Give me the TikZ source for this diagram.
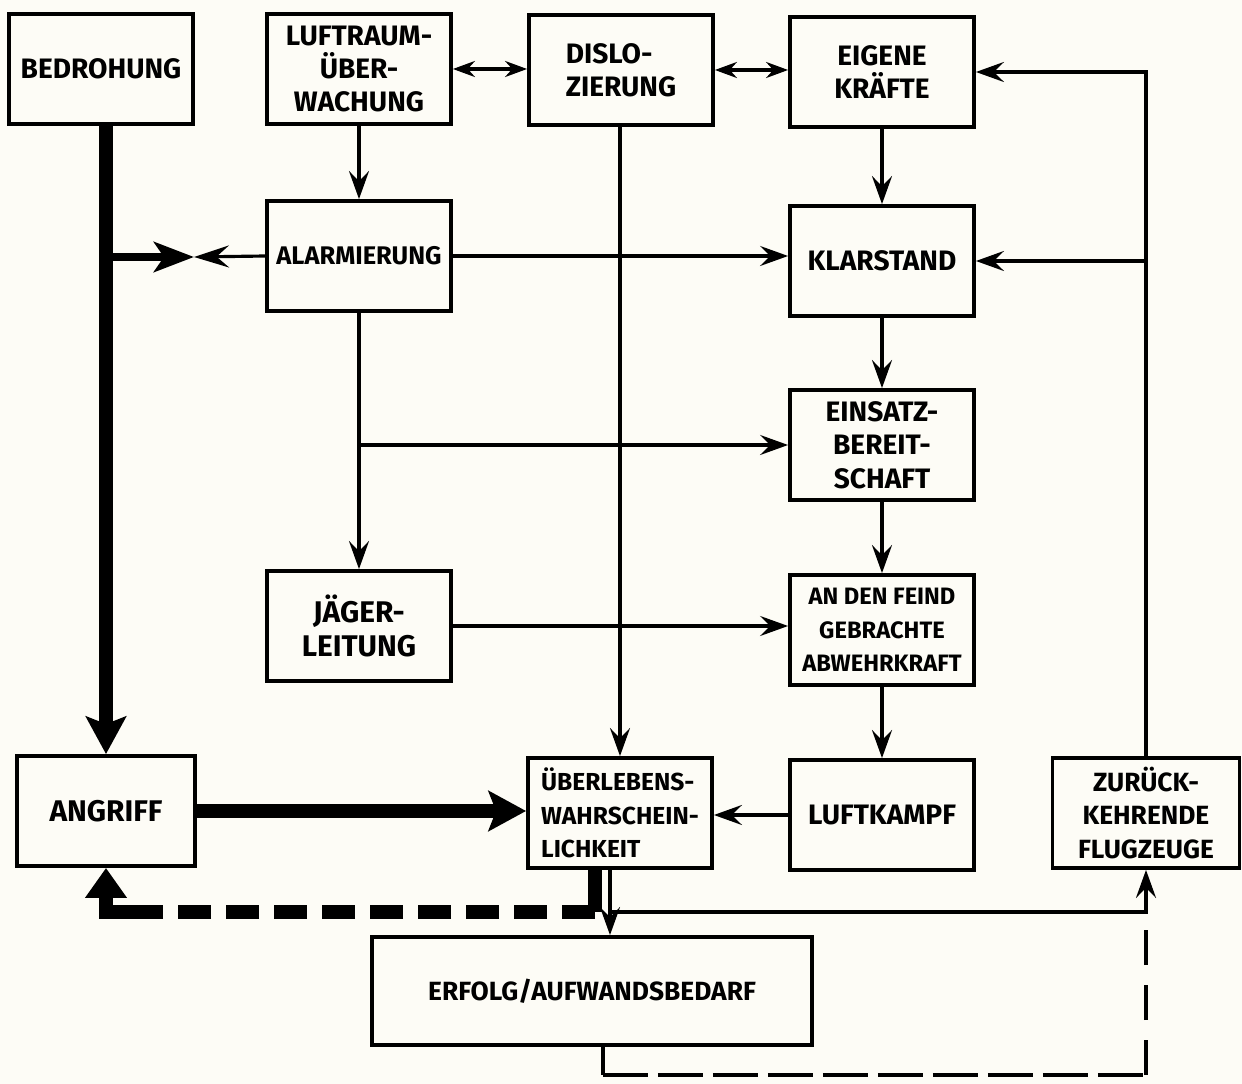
\documentclass[tikz,border=0pt]{standalone}
\usepackage{fontspec}
\setmainfont{Fira Sans}
\usetikzlibrary{arrows.meta,positioning}
\definecolor{papier}{RGB}{253,252,246}
\newcommand\groesse[1]{\fontsize{#1}{19}\selectfont\bfseries}

\tikzset{
  kasten/.style={draw, line width=2.2pt, minimum width=3.68cm, minimum height=2.2cm,
    inner sep=2pt, align=center, font=\groesse{16}},
  klein/.style={font=\groesse{13.5}},
  pfeil/.style={line width=1.8pt, -{Stealth[length=5.6mm,width=4mm,inset=2mm]}},
  doppel/.style={line width=1.8pt, {Stealth[length=4.4mm,width=3.2mm]}-{Stealth[length=4.4mm,width=3.2mm]}},
  dick/.style={line width=8pt, -{Stealth[length=7.5mm,width=8mm,inset=1.5mm]}},
  strich/.style={line width=2pt, dash pattern=on 9mm off 2mm},
}

\begin{document}
\begin{tikzpicture}[x=0.02cm, y=-0.02cm]
    \fill[papier] (0,0) rectangle (1242,1084);
    \useasboundingbox (0,0) rectangle (1242,1084);

    % Kaesten, obere Reihe
    \node[kasten] (bedro) at (101,69) {BEDROHUNG};
    \node[kasten] (luft) at (359,69) {LUFTRAUM-\\ÜBER-\\WACHUNG};
    \node[kasten, align=left] (dislo) at (621,70) {DISLO-\\ZIERUNG};
    \node[kasten] (eigene) at (882,72) {EIGENE\\KRÄFTE};

    % Kaesten, Mitte
    \node[kasten, font=\groesse{14.5}] (alarm) at (359,256) {ALARMIERUNG};
    \node[kasten] (klar) at (882,261) {KLARSTAND};
    \node[kasten] (einsatz) at (882,445) {EINSATZ-\\BEREIT-\\SCHAFT};
    \node[kasten, font=\groesse{17}] (jaeger) at (359,626) {JÄGER-\\LEITUNG};
    \node[kasten, klein] (feind) at (882,630) {AN DEN FEIND\\GEBRACHTE\\ABWEHRKRAFT};

    % Kaesten, untere Reihe
    \node[kasten, minimum width=3.56cm, font=\groesse{17}] (angriff) at (106,811) {ANGRIFF};
    \node[kasten, font=\groesse{14}, align=left] (ueber) at (620,813) {ÜBERLEBENS-\\WAHRSCHEIN-\\LICHKEIT};
    \node[kasten] (luftk) at (882,815) {LUFTKAMPF};
    \node[kasten, font=\groesse{15}, minimum width=3.74cm] (zurueck) at (1146,813) {ZURÜCK-\\KEHRENDE\\FLUGZEUGE};
    \node[kasten, minimum width=8.8cm, minimum height=2.16cm, font=\groesse{15}] (erfolg) at (592,991) {ERFOLG/AUFWANDSBEDARF};

    % Hilfspunkte
    \coordinate (treff) at (194,257);
    \coordinate (ab) at (610,912);
    \coordinate (rueck) at (595,912);
    \coordinate (stummel) at (150,912);
    \coordinate (unten) at (603,1075);

    % Bedrohung -> Angriff
    \draw[dick] (angriff.north |- bedro.south) -- (angriff.north);
    \draw[line width=5pt, -{Stealth[length=8mm,width=6mm,inset=2mm]}] (angriff.north |- treff) -- (treff);
    \draw[line width=1.8pt, -{Stealth[length=7mm,width=4.4mm,inset=2.5mm]}] (alarm.west) -- (treff);

    % obere Verbindungen
    \draw[doppel] (luft.east) -- (luft.east -| dislo.west);
    \draw[doppel] (dislo.east) -- (dislo.east -| eigene.west);
    \draw[pfeil] (luft) -- (alarm);
    \draw[pfeil] (eigene) -- (klar);
    \draw[pfeil] (ueber.north |- dislo.south) -- (ueber.north);

    % Alarmierung
    \draw[pfeil] (alarm.east) -- (alarm.east -| klar.west);
    \draw[pfeil] (alarm) -- (jaeger);
    \draw[pfeil] (alarm.south |- einsatz.west) -- (einsatz.west);
    \draw[pfeil] (jaeger.east) -- (jaeger.east -| feind.west);

    % rechte Kette
    \draw[pfeil] (klar) -- (einsatz);
    \draw[pfeil] (einsatz) -- (feind);
    \draw[pfeil] (feind) -- (luftk);
    \draw[pfeil] (luftk.west) -- (luftk.west -| ueber.east);
    \draw[pfeil] (zurueck.north) |- (eigene.east);
    \draw[pfeil] (zurueck.north |- klar.east) -- (klar.east);

    % Angriff -> Ueberlebenswahrscheinlichkeit
    \draw[dick] (angriff.east) -- (angriff.east -| ueber.west);

    % Rueckkopplung zum Angriff
    \draw[line width=8pt] (ueber.south -| rueck) -- (rueck);
    \draw[line width=8pt, dash pattern=on 6.6mm off 3mm] (rueck) -- (stummel);
    \draw[line width=8pt, -{Triangle[length=6mm,width=8mm]}] (stummel) -| (angriff.south);

    % Erfolg und zurueckkehrende Flugzeuge
    \draw[pfeil] (ueber.south -| ab) -- (ab |- erfolg.north);
    \draw[pfeil] (ab) -| (zurueck.south);
    \draw[line width=2pt] (erfolg.south -| unten) -- (unten);
    \draw[strich] (unten) -- (unten -| zurueck.south);
    \draw[line width=2pt, dash pattern=on 7mm off 4mm] (unten -| zurueck.south) -- (zurueck.south |- ab);
\end{tikzpicture}
\end{document}
